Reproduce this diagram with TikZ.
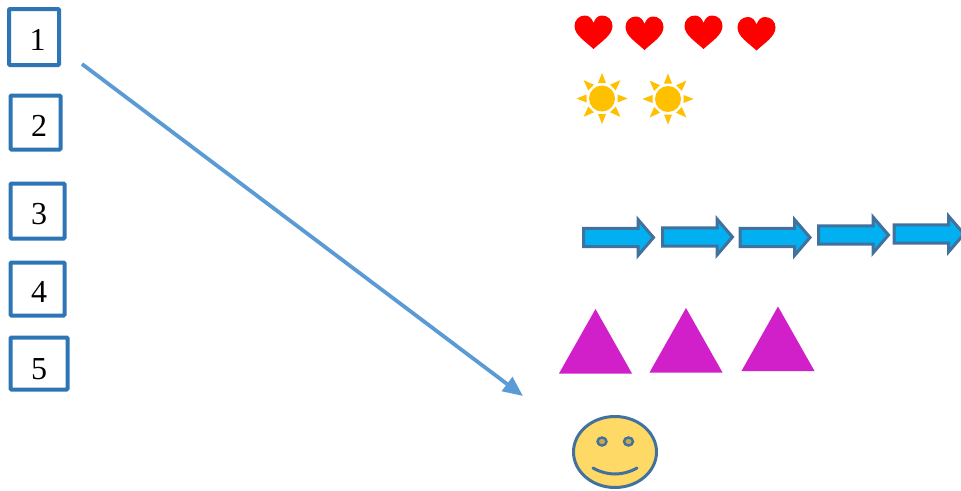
\documentclass[tikz,border=0pt]{standalone}
\usepackage{fontspec}
\setmainfont{Liberation Serif}
\usetikzlibrary{arrows.meta}
\definecolor{boxblue}{HTML}{2E75B6}
\definecolor{linkblue}{HTML}{5B9BD5}
\definecolor{arrowfill}{HTML}{00B0F0}
\definecolor{steelline}{HTML}{41719C}
\definecolor{sunyellow}{HTML}{FFC000}
\definecolor{trianglepink}{HTML}{D11FC9}
\definecolor{faceyellow}{HTML}{FFD966}
\definecolor{eyefill}{HTML}{C9A850}
\tikzset{
  x=1pt,y=-1pt,
  numbox/.style={draw=boxblue,line width=4pt,fill=white,rounded corners=1pt,inner sep=0pt,outer sep=0pt},
  digit/.style={font=\fontsize{32}{36}\selectfont,text=black,inner sep=0pt},
  link/.style={draw=linkblue,line width=3.8pt,-{Triangle[length=20pt,width=17pt]}},
  heartshape/.pic={
    \fill[red] (18.5,33) .. controls (10.5,25.5) and (-0.5,19) .. (-0.5,10)
      .. controls (-0.5,4) and (4,-0.5) .. (10,-0.5)
      .. controls (14,-0.5) and (17,2.5) .. (18.5,7)
      .. controls (20,2.5) and (23,-0.5) .. (27,-0.5)
      .. controls (33,-0.5) and (37.5,4) .. (37.5,10)
      .. controls (37.5,19) and (26.5,25.5) .. (18.5,33) -- cycle;
  },
  sunshape/.pic={
    \fill[sunyellow] (0,0) circle[radius=13];
    \foreach \a/\r in {0/25.5,45/26,90/25.5,135/26,180/25.5,225/26,270/25.5,315/26}{
      \fill[sunyellow,rotate=\a] (15.5,-4) -- (\r,0) -- (15.5,4) -- cycle;
    }
  },
  blockarrow/.pic={
    \draw[fill=arrowfill,draw=steelline,line width=3pt,line join=miter]
      (0,-9.2) -- (54.5,-9.2) -- (54.5,-18) -- (70,0) -- (54.5,18) -- (54.5,9.2) -- (0,9.2) -- cycle;
  },
  pinktriangle/.pic={
    \fill[trianglepink] (0,0) -- (36.5,-64.5) -- (73,0) -- cycle;
  },
}
\begin{document}
\begin{tikzpicture}
\useasboundingbox (0,0) rectangle (961,490);
\clip (0,0) rectangle (961,490);
\node[numbox,minimum width=50pt,minimum height=56pt] (b1) at (34,37) {};
\node[numbox,minimum width=50pt,minimum height=54pt] (b2) at (35.5,122.5) {};
\node[numbox,minimum width=54pt,minimum height=55pt] (b3) at (37.5,211) {};
\node[numbox,minimum width=54pt,minimum height=53pt] (b4) at (37.5,289) {};
\node[numbox,minimum width=57pt,minimum height=52pt] (b5) at (39,363.5) {};
\node[digit] (d1) at (37.5,40) {1};
\node[digit] (d2) at (39,126) {2};
\node[digit] (d3) at (39,214) {3};
\node[digit] (d4) at (39,292) {4};
\node[digit] (d5) at (39,369) {5};
\coordinate (linkstart) at (82,64);
\coordinate (linkend) at (523,396);
\draw[link] (linkstart) -- (linkend);
\pic (h1) at (575,16) {heartshape};
\pic (h2) at (626,17) {heartshape};
\pic (h3) at (685,16) {heartshape};
\pic (h4) at (738,17.5) {heartshape};
\pic (s1) at (602,98.5) {sunshape};
\pic (s2) at (668,99) {sunshape};
\pic (a1) at (583.5,237.5) {blockarrow};
\pic (a2) at (662.5,237) {blockarrow};
\pic (a3) at (740,237.5) {blockarrow};
\pic (a4) at (818.5,235) {blockarrow};
\pic (a5) at (894,234) {blockarrow};
\pic (t1) at (559,373.5) {pinktriangle};
\pic (t2) at (649.5,372.5) {pinktriangle};
\pic (t3) at (741.5,371) {pinktriangle};
\draw[fill=faceyellow,draw=steelline,line width=3pt] (615,452) ellipse[x radius=41.5,y radius=35.5];
\draw[fill=eyefill,draw=steelline,line width=2.4pt] (602,441.5) ellipse[x radius=4.5,y radius=4];
\draw[fill=eyefill,draw=steelline,line width=2.4pt] (628.5,441.5) ellipse[x radius=4.5,y radius=4];
\draw[steelline,line width=3pt,line cap=round] (593,468) .. controls (607,476) and (623,476) .. (637,468);
\end{tikzpicture}
\end{document}
